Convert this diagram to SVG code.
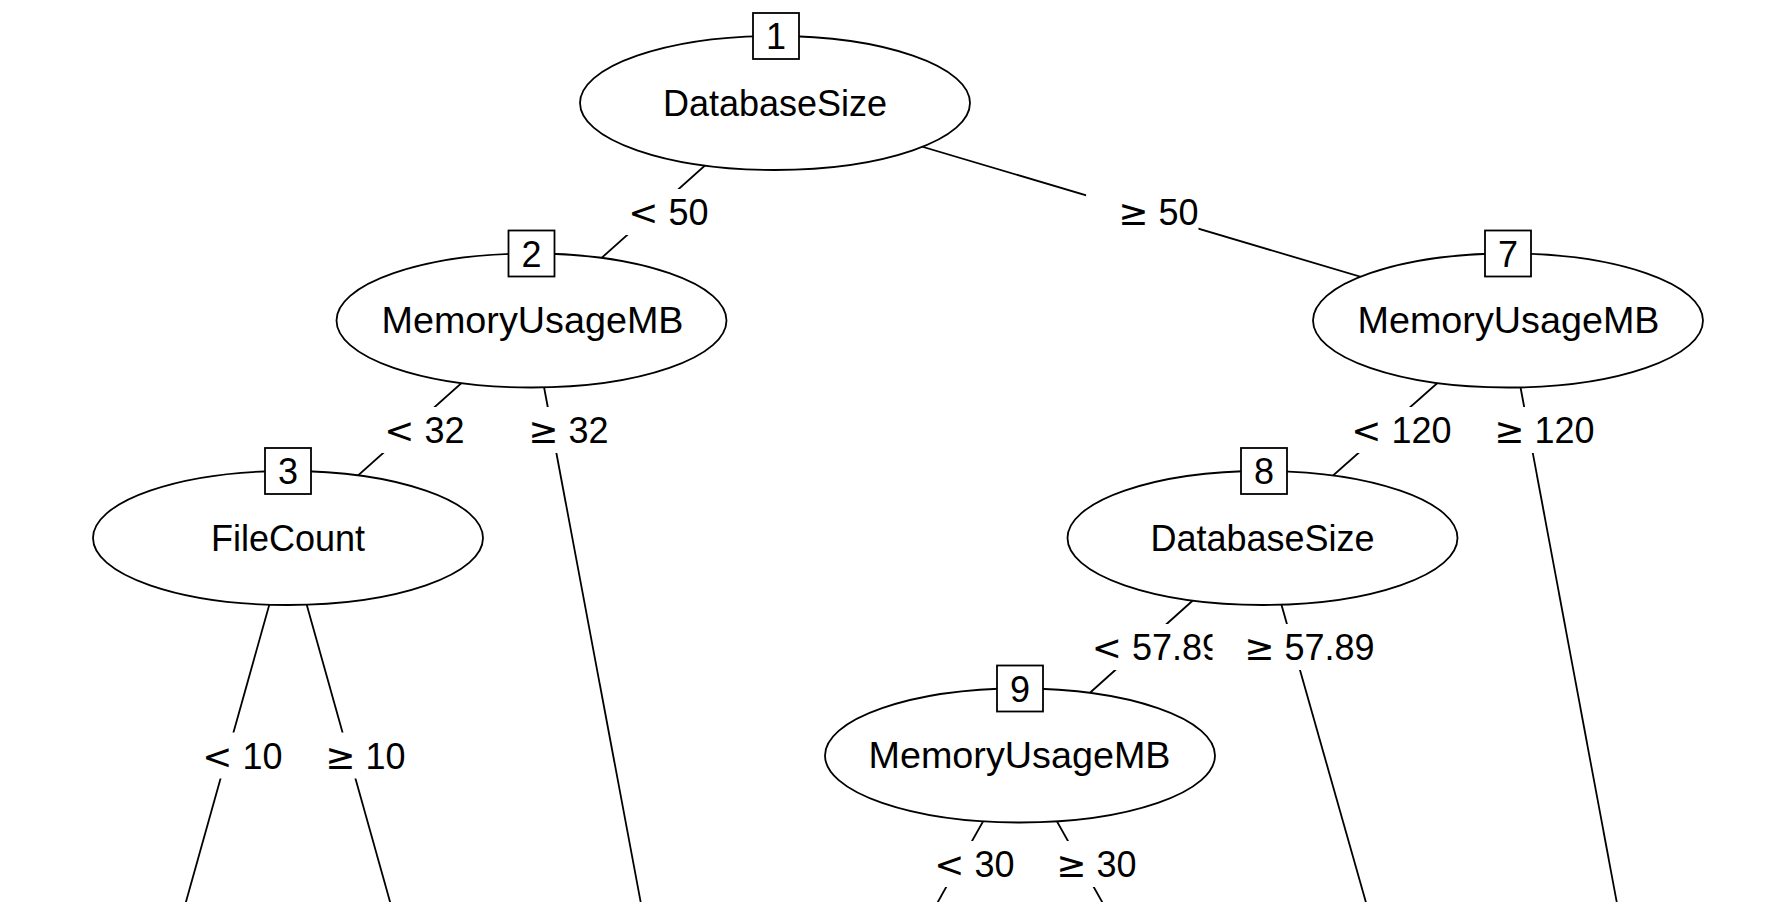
<svg xmlns="http://www.w3.org/2000/svg" width="1768" height="902" viewBox="0 0 1768 902">
<style>
.edge{stroke:#000;stroke-width:1.8;fill:none}
.lblbg{fill:#fff;stroke:none}
.lbl{font-family:"Liberation Sans",Arial,sans-serif;font-size:36px;fill:#000;text-anchor:end}
.sym{font-family:"DejaVu Sans",sans-serif}
.node{fill:#fff;stroke:#000;stroke-width:1.8}
.idbox{fill:#fff;stroke:#000;stroke-width:1.8}
.ntxt{font-family:"Liberation Sans",Arial,sans-serif;font-size:36px;fill:#000;text-anchor:middle}
</style>
<rect x="0" y="0" width="1768" height="902" fill="#fff"/>
<g id="connectors">
<line class="edge" x1="775" y1="103" x2="531.5" y2="320.5"/>
<line class="edge" x1="775" y1="103" x2="1508" y2="320.5"/>
<line class="edge" x1="531.5" y1="320.5" x2="288" y2="538"/>
<line class="edge" x1="531.5" y1="320.5" x2="654" y2="973"/>
<line class="edge" x1="288" y1="538" x2="166" y2="973"/>
<line class="edge" x1="288" y1="538" x2="410" y2="973"/>
<line class="edge" x1="1508" y1="320.5" x2="1262.5" y2="538"/>
<line class="edge" x1="1508" y1="320.5" x2="1630" y2="973"/>
<line class="edge" x1="1262.5" y1="538" x2="1020" y2="755.5"/>
<line class="edge" x1="1262.5" y1="538" x2="1386" y2="973"/>
<line class="edge" x1="1020" y1="755.5" x2="898" y2="973"/>
<line class="edge" x1="1020" y1="755.5" x2="1142" y2="973"/>
</g>
<g id="edge-labels">
<rect class="lblbg" x="597.5" y="189" width="111" height="46"/>
<text class="lbl" x="708.5" y="225"><tspan class="sym">&lt;</tspan> 50</text>
<rect class="lblbg" x="1086.1" y="189" width="112.4" height="46"/>
<text class="lbl" x="1198.5" y="225"><tspan class="sym">≥</tspan> 50</text>
<rect class="lblbg" x="353.3" y="407" width="111.2" height="46"/>
<text class="lbl" x="464.5" y="443"><tspan class="sym">&lt;</tspan> 32</text>
<rect class="lblbg" x="495.7" y="407" width="112.8" height="46"/>
<text class="lbl" x="608.5" y="443"><tspan class="sym">≥</tspan> 32</text>
<rect class="lblbg" x="1317.3" y="407" width="134.2" height="46"/>
<text class="lbl" x="1451.5" y="443"><tspan class="sym">&lt;</tspan> 120</text>
<rect class="lblbg" x="1462.5" y="407" width="132" height="46"/>
<text class="lbl" x="1594.5" y="443"><tspan class="sym">≥</tspan> 120</text>
<rect class="lblbg" x="1060" y="624" width="162" height="46"/>
<text class="lbl" x="1222" y="659.5"><tspan class="sym">&lt;</tspan> 57.89</text>
<rect class="lblbg" x="1212.5" y="624" width="162" height="46"/>
<text class="lbl" x="1374.5" y="659.5"><tspan class="sym">≥</tspan> 57.89</text>
<rect class="lblbg" x="171.5" y="732.5" width="111" height="46"/>
<text class="lbl" x="282.5" y="768.5"><tspan class="sym">&lt;</tspan> 10</text>
<rect class="lblbg" x="292.5" y="732.5" width="113" height="46"/>
<text class="lbl" x="405.5" y="768.5"><tspan class="sym">≥</tspan> 10</text>
<rect class="lblbg" x="903.7" y="841" width="110.8" height="46"/>
<text class="lbl" x="1014.5" y="877"><tspan class="sym">&lt;</tspan> 30</text>
<rect class="lblbg" x="1025.3" y="841" width="111.2" height="46"/>
<text class="lbl" x="1136.5" y="877"><tspan class="sym">≥</tspan> 30</text>
</g>
<g id="node1">
<ellipse class="node" cx="775" cy="103" rx="195" ry="67"/>
<text class="ntxt" x="775" y="116">DatabaseSize</text>
<rect class="idbox" x="753" y="13" width="46" height="46"/>
<text class="ntxt" x="776" y="49">1</text>
</g>
<g id="node2">
<ellipse class="node" cx="531.5" cy="320.5" rx="195" ry="67"/>
<text class="ntxt" x="532.5" y="333" textLength="302" lengthAdjust="spacingAndGlyphs">MemoryUsageMB</text>
<rect class="idbox" x="508.5" y="230.5" width="46" height="46"/>
<text class="ntxt" x="531.5" y="266.5">2</text>
</g>
<g id="node3">
<ellipse class="node" cx="288" cy="538" rx="195" ry="67"/>
<text class="ntxt" x="288" y="551">FileCount</text>
<rect class="idbox" x="265" y="448" width="46" height="46"/>
<text class="ntxt" x="288" y="484">3</text>
</g>
<g id="node7">
<ellipse class="node" cx="1508" cy="320.5" rx="195" ry="67"/>
<text class="ntxt" x="1508.5" y="333" textLength="302" lengthAdjust="spacingAndGlyphs">MemoryUsageMB</text>
<rect class="idbox" x="1485" y="230.5" width="46" height="46"/>
<text class="ntxt" x="1508" y="266.5">7</text>
</g>
<g id="node8">
<ellipse class="node" cx="1262.5" cy="538" rx="195" ry="67"/>
<text class="ntxt" x="1262.5" y="551">DatabaseSize</text>
<rect class="idbox" x="1241" y="448" width="46" height="46"/>
<text class="ntxt" x="1264" y="484">8</text>
</g>
<g id="node9">
<ellipse class="node" cx="1020" cy="755.5" rx="195" ry="67"/>
<text class="ntxt" x="1019.5" y="768" textLength="302" lengthAdjust="spacingAndGlyphs">MemoryUsageMB</text>
<rect class="idbox" x="997" y="665.5" width="46" height="46"/>
<text class="ntxt" x="1020" y="701.5">9</text>
</g>
</svg>
